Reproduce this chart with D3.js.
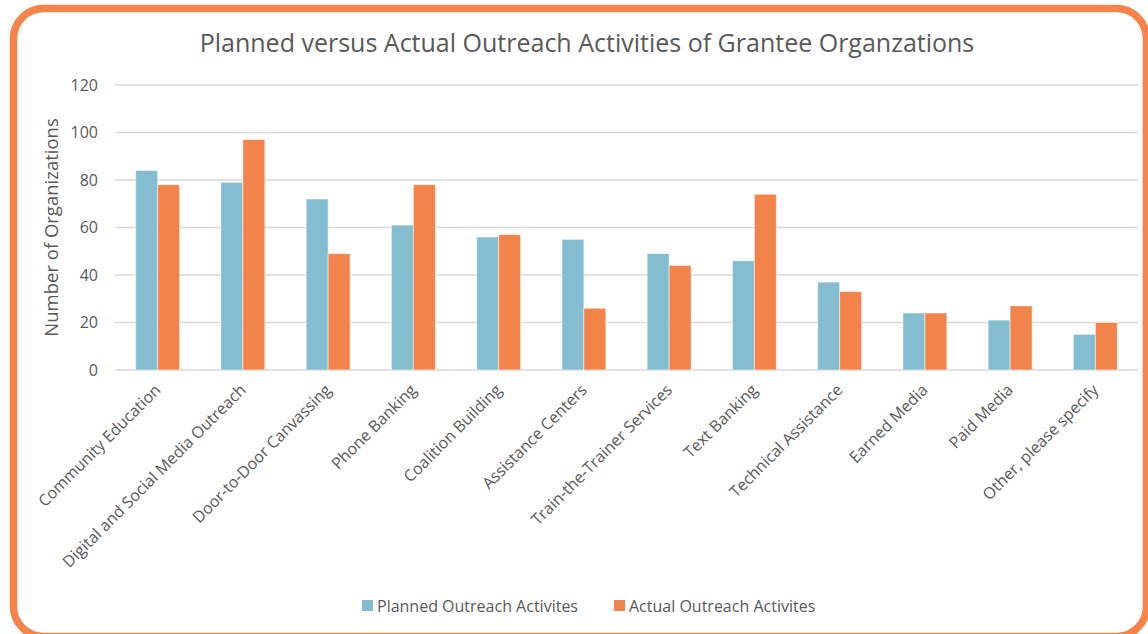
<!DOCTYPE html>
<html>
<head>
<meta charset="utf-8">
<script src="https://cdn.jsdelivr.net/npm/d3@7"></script>
<style>
  body { margin: 0; background: #fff; }
  svg { display: block; font-family: "Open Sans", "Noto Sans", sans-serif; }
</style>
</head>
<body>
<div id="container"></div>
<script>
const categories = [
    "Community Education", "Digital and Social Media Outreach", "Door-to-Door Canvassing",
    "Phone Banking", "Coalition Building", "Assistance Centers", "Train-the-Trainer Services",
    "Text Banking", "Technical Assistance", "Earned Media", "Paid Media", "Other, please specify"
];
const planned = [84, 79, 72, 61, 56, 55, 49, 46, 37, 24, 21, 15];
const actual  = [78, 97, 49, 78, 57, 26, 44, 74, 33, 24, 27, 20];
const seriesNames = ["Planned Outreach Activites", "Actual Outreach Activites"];
const yTicks = [0, 20, 40, 60, 80, 100, 120];

const width = 1148, height = 634;
const colors = ["#84BDD0", "#F2834A"];
const textColor = "#595959";

const svg = d3.select("#container")
    .append("svg")
    .attr("width", width)
    .attr("height", height);

// orange rounded frame
svg.append("rect")
    .attr("x", 13.5)
    .attr("y", 8.5)
    .attr("width", 1133)
    .attr("height", 628)
    .attr("rx", 30)
    .attr("fill", "none")
    .attr("stroke", "#F5834A")
    .attr("stroke-width", 7.5);

svg.append("text")
    .text("Planned versus Actual Outreach Activities of Grantee Organzations")
    .attr("x", 587)
    .attr("y", 52)
    .attr("text-anchor", "middle")
    .attr("fill", textColor)
    .style("font-size", "25px");

const plot = {left: 115, right: 1138, top: 85, bottom: 370};

const x = d3.scaleBand()
    .domain(categories)
    .range([plot.left, plot.right]);

const xs = d3.scaleBand()
    .domain([0, 1])
    .range([0, x.bandwidth()])
    .paddingInner(0)
    .paddingOuter(0.94);

const y = d3.scaleLinear()
    .domain([0, 120])
    .range([plot.bottom, plot.top]);

// gridlines
svg.append("g")
    .selectAll("line")
    .data(yTicks)
    .enter()
    .append("line")
    .attr("x1", plot.left)
    .attr("x2", plot.right)
    .attr("y1", d => y(d))
    .attr("y2", d => y(d))
    .attr("stroke", "#D9D9D9")
    .attr("stroke-width", 1.3);

// y axis labels
const yAxis = svg.append("g")
    .attr("transform", "translate(" + plot.left + ",0)")
    .call(d3.axisLeft(y).tickValues(yTicks).tickSize(0).tickPadding(17));
yAxis.select(".domain").remove();
yAxis.selectAll("text")
    .attr("fill", textColor)
    .style("font-size", "16px")
    .style("font-family", "'Open Sans', sans-serif");

svg.append("text")
    .text("Number of Organizations")
    .attr("transform", "translate(58," + ((plot.top + plot.bottom) / 2 + 0) + ") rotate(-90)")
    .attr("text-anchor", "middle")
    .attr("fill", textColor)
    .style("font-size", "18.5px");

// bars
const groups = svg.append("g")
    .selectAll("g")
    .data(categories)
    .enter()
    .append("g")
    .attr("transform", d => "translate(" + x(d) + ",0)");

groups.selectAll("rect")
    .data((d, i) => [planned[i], actual[i]])
    .enter()
    .append("rect")
    .attr("x", (d, j) => xs(j))
    .attr("width", xs.bandwidth())
    .attr("y", d => y(d))
    .attr("height", d => y(0) - y(d))
    .attr("fill", (d, j) => colors[j])
    .attr("stroke", "#fff")
    .attr("stroke-opacity", 0.5)
    .attr("stroke-width", 1);

// x axis labels, rotated
const xAxis = svg.append("g")
    .attr("transform", "translate(0," + plot.bottom + ")")
    .call(d3.axisBottom(x).tickSize(0).tickPadding(0));
xAxis.select(".domain").remove();
xAxis.selectAll("text")
    .attr("fill", textColor)
    .style("font-size", "16px")
    .style("font-family", "'Open Sans', sans-serif")
    .attr("text-anchor", "end")
    .attr("dy", null)
    .attr("transform", "translate(4,21) rotate(-45)");

// legend
const legendItems = [{x: 362}, {x: 614}];
const legend = svg.append("g")
    .selectAll("g")
    .data(seriesNames)
    .enter()
    .append("g")
    .attr("transform", (d, i) => "translate(" + legendItems[i].x + ",600)");

legend.append("rect")
    .attr("width", 11)
    .attr("height", 11)
    .attr("fill", (d, i) => colors[i]);

legend.append("text")
    .text(d => d)
    .attr("x", 15)
    .attr("y", 12)
    .attr("fill", textColor)
    .style("font-size", "16px");
</script>
</body>
</html>
